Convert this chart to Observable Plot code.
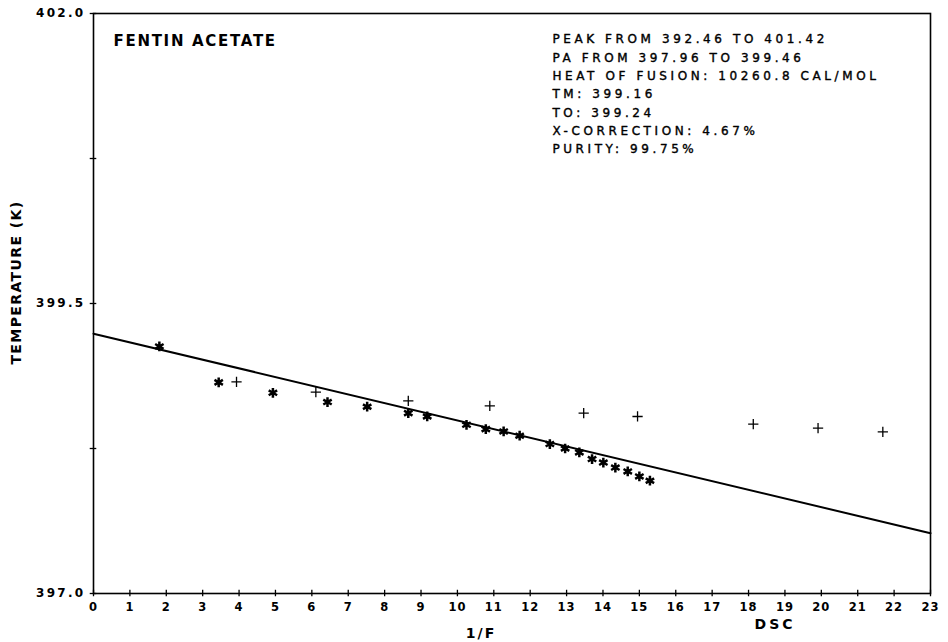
<!DOCTYPE html>
<html>
<head>
<meta charset="utf-8">
<script src="https://cdn.jsdelivr.net/npm/d3@7"></script>
<script src="https://cdn.jsdelivr.net/npm/@observablehq/plot@0.6"></script>
<style>
  html, body { margin: 0; padding: 0; background: #fff; }
  svg { font-family: "DejaVu Sans", sans-serif; }
</style>
</head>
<body>
<div id="chart"></div>
<script>
// Tick values
const xTicks = d3.range(0, 24);
const yTicks = [397.0, 398.25, 399.5, 400.75, 402.0];
const yTickLabels = [397.0, 399.5, 402.0];

// Corrected points (asterisks)
const corrX = [1.81, 3.44, 4.93, 6.43, 7.52, 8.65, 9.17, 10.25, 10.78, 11.27, 11.71, 12.54, 12.96, 13.35, 13.70, 14.01, 14.34, 14.68, 15.00, 15.29];
const corrY = [399.13, 398.82, 398.73, 398.65, 398.61, 398.555, 398.526, 398.454, 398.417, 398.397, 398.36, 398.288, 398.25, 398.216, 398.159, 398.129, 398.086, 398.052, 398.009, 397.972];

// Uncorrected points (plus)
const rawX = [3.93, 6.11, 8.65, 10.89, 13.47, 14.95, 18.13, 19.91, 21.69];
const rawY = [398.825, 398.736, 398.66, 398.618, 398.555, 398.526, 398.46, 398.426, 398.394];

// Fitted line
const fitX = [0, 23];
const fitY = [399.24, 397.52];

const title = "FENTIN ACETATE";
const xLabel = "1/F";
const yLabel = "TEMPERATURE (K)";
const cornerLabel = "DSC";
const infoLines = [
  "PEAK FROM 392.46 TO 401.42",
  "PA FROM 397.96 TO 399.46",
  "HEAT OF FUSION: 10260.8 CAL/MOL",
  "TM: 399.16",
  "TO: 399.24",
  "X-CORRECTION: 4.67%",
  "PURITY: 99.75%"
];

const corr = corrX.map((x, i) => ({x, y: corrY[i]}));
const raw = rawX.map((x, i) => ({x, y: rawY[i]}));
const fit = fitX.map((x, i) => ({x, y: fitY[i]}));

const plot = Plot.plot({
  width: 948,
  height: 642,
  marginLeft: 93,
  marginRight: 18,
  marginTop: 13,
  marginBottom: 49,
  x: {domain: [0, 23]},
  y: {domain: [397, 402]},
  axis: null,
  marks: [
    Plot.frame({stroke: "#000", strokeWidth: 1.6}),
    Plot.ruleX(xTicks, {x: d => d, y1: 397 - 0.028, y2: 397 + 0.028, stroke: "#000", strokeWidth: 1.3}),
    Plot.ruleY(yTicks, {y: d => d, x1: -0.09, x2: 0.09, stroke: "#000", strokeWidth: 1.3}),
    Plot.line(fit, {x: "x", y: "y", stroke: "#000", strokeWidth: 2}),
    Plot.dot(raw, {x: "x", y: "y", symbol: "plus", r: 3.4, stroke: "#000", strokeWidth: 1.3}),
    Plot.dot(corr, {x: "x", y: "y", symbol: "asterisk", r: 4.6, stroke: "#000", strokeWidth: 2.5}),
    // 0: x tick labels
    Plot.text(xTicks, {x: d => d, y: 397, text: d => String(d), dy: 14, fontSize: 11.5, fontWeight: "bold", fill: "#000"}),
    // 1: y tick labels
    Plot.text(yTickLabels, {x: 0, y: d => d, text: d => d.toFixed(1), textAnchor: "end", dx: -8, fontSize: 12, fontWeight: "bold", fill: "#000"}),
    // 2: title
    Plot.text([title], {x: 0.55, y: 401.76, text: d => d, textAnchor: "start", fontSize: 15, fontWeight: "bold", fill: "#000"}),
    // 3: info block
    Plot.text([infoLines.join("\n")], {x: 12.61, y: 401.32, text: d => d, textAnchor: "start", lineAnchor: "middle", fontSize: 12, lineHeight: 1.525, fill: "#000", stroke: "#000", strokeWidth: 0.4}),
    // 4: x label
    Plot.text([xLabel], {frameAnchor: "bottom", text: d => d, textAnchor: "middle", lineAnchor: "middle", dx: -31, dy: 40, fontSize: 14, fontWeight: "bold", fill: "#000"}),
    // 5: DSC
    Plot.text([cornerLabel], {frameAnchor: "bottom", text: d => d, textAnchor: "middle", lineAnchor: "middle", dx: 263, dy: 31, fontSize: 14, fontWeight: "bold", fill: "#000"}),
    // 6: y label
    Plot.text([yLabel], {frameAnchor: "left", text: d => d, textAnchor: "middle", lineAnchor: "middle", rotate: -90, dx: -77, dy: -21, fontSize: 14, fontWeight: "bold", fill: "#000"})
  ]
});

// letter spacing to mimic the plotter lettering
const spacing = ["1px", "2.3px", "1.7px", "3.6px", "2px", "3px", "1.4px"];
d3.select(plot).selectAll('g[aria-label="text"]').each(function(d, i) {
  d3.select(this).style("letter-spacing", spacing[i]);
});
document.getElementById("chart").appendChild(plot);
</script>
</body>
</html>
